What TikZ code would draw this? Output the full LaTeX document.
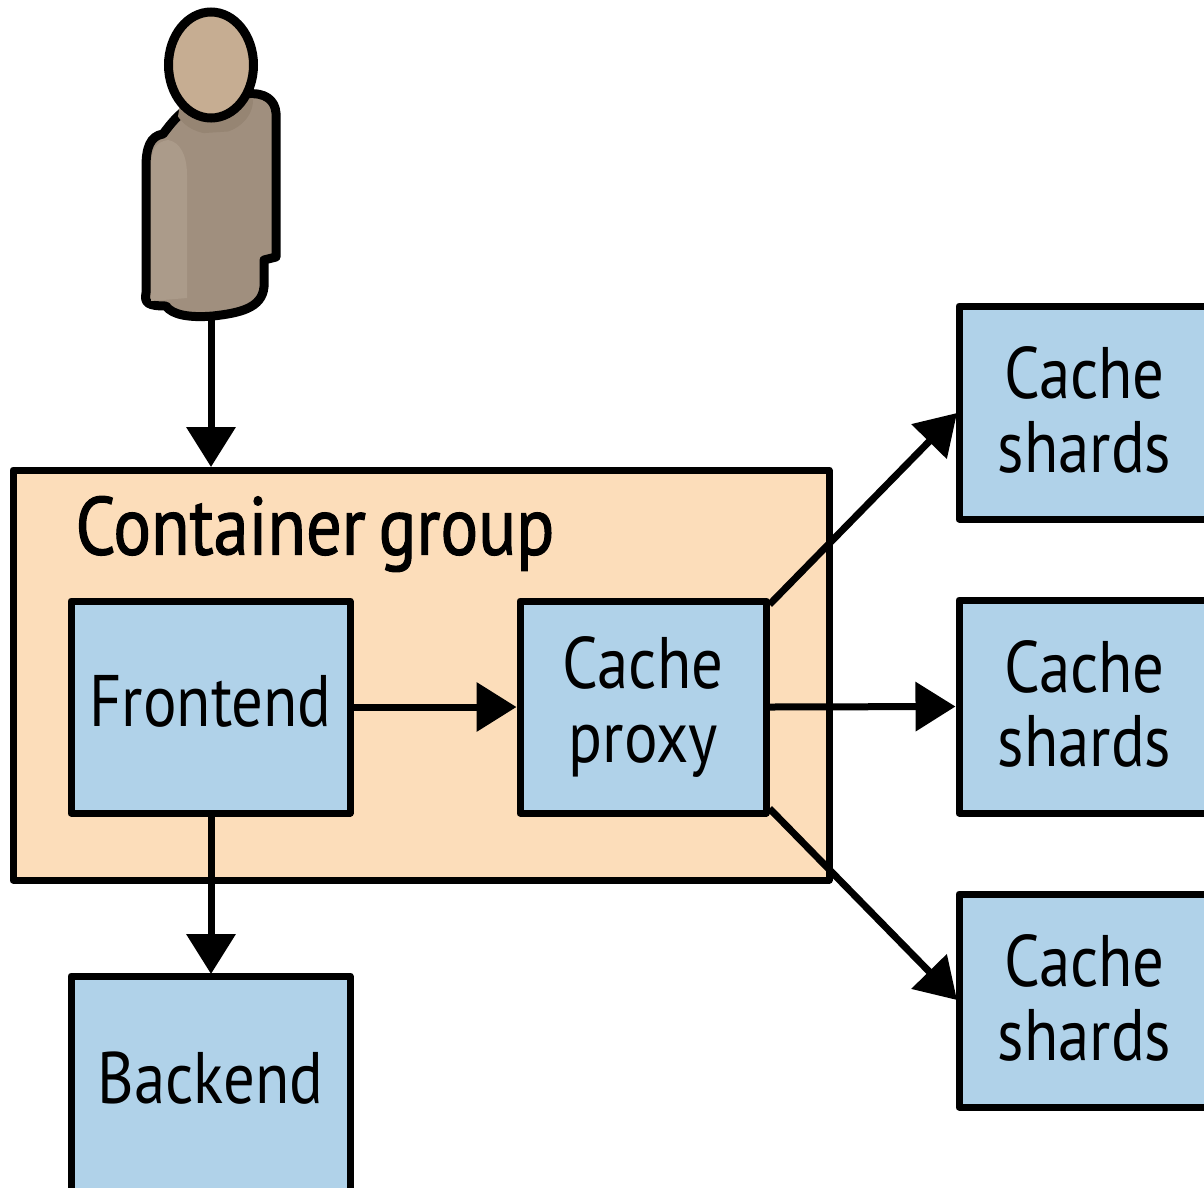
\documentclass[tikz,border=0pt]{standalone}
\usepackage{fontspec}
\setmainfont{PT Sans}
\usetikzlibrary{arrows.meta,shapes.geometric}
\definecolor{boxblue}{HTML}{B0D2E9}
\definecolor{grp}{HTML}{FCDDBA}
\definecolor{skin}{HTML}{C6AD92}
\definecolor{bodyd}{HTML}{A08F7E}
\definecolor{bodyl}{HTML}{AB9B8A}
\definecolor{bodys}{HTML}{968573}
\tikzset{x=1pt,y=-1pt,
 bx/.style={draw=black,line width=7pt,line join=round,fill=boxblue,anchor=center,inner sep=0pt,align=center,font=\fontsize{73}{74}\selectfont\addfontfeatures{FakeStretch=0.86}},
 conn/.style={draw=black,line width=7pt,-{Triangle[length=40pt,width=48pt]}}}
\newcommand{\bbox}[6]{\node[bx,minimum width=#3pt-#1pt,minimum height=#4pt-#2pt] (#5) at ({(#1+#3)/2},{(#2+#4)/2}) {#6};}
\begin{document}
\begin{tikzpicture}
\useasboundingbox (0,0) rectangle (1204,1187);
\fill[white] (0,0) rectangle (1204,1187);
% person
\draw[line width=9pt,fill=bodyd,line join=round] (188,108) .. controls (178,115) and (172,122) .. (163,134) .. controls (150,136) and (146,148) .. (146,167) -- (146,293) .. controls (144,303) and (148,306) .. (166,306) .. controls (172,315) and (190,318) .. (213,316) .. controls (240,313) and (262,308) .. (264,287) -- (264,260) -- (276,257) -- (276,113) .. controls (275,100) and (265,92) .. (247,94) -- cycle;
\begin{scope}
\clip (180,104) -- (255,98) -- (250,130) -- (175,135) -- cycle;
\fill[bodys] (213,100) ellipse (40pt and 34pt);
\end{scope}
\fill[bodyl] (151,168) .. controls (151,150) and (155,142) .. (168,140) .. controls (180,142) and (187,155) .. (187,175) -- (187,298) -- (151,301) -- cycle;
\node[draw=black,line width=9pt,fill=skin,ellipse,minimum width=85pt,minimum height=106pt,inner sep=0pt] (person) at (211,65) {};
\coordinate (personfoot) at (211,318);
% container
\node[draw=black,line width=7pt,line join=round,fill=grp,inner sep=0pt,minimum width=816pt,minimum height=410pt] (group) at (421,675) {};
\node[anchor=west,font=\fontsize{82}{80}\selectfont\addfontfeatures{FakeBold=1.4,FakeStretch=0.86}] (grouplabel) at (72,534) {Container\hspace{-6pt} group};
\bbox{71}{601}{350}{813}{fe}{\raisebox{12pt}{Frontend}}
\bbox{520}{601}{766}{813}{cp}{\raisebox{2pt}{Cache}\\\raisebox{2pt}{proxy}}
\bbox{71}{976}{350}{1200}{be}{\raisebox{20pt}{Backend}}
\bbox{959}{306}{1210}{519}{s1}{\raisebox{7pt}{Cache}\\\raisebox{7pt}{shards}}
\bbox{959}{600}{1210}{813}{s2}{\raisebox{7pt}{Cache}\\\raisebox{7pt}{shards}}
\bbox{959}{894}{1210}{1107}{s3}{\raisebox{7pt}{Cache}\\\raisebox{7pt}{shards}}
\coordinate (gt) at (211,467);
\coordinate (bt) at (211,974);
\coordinate (fb) at (211,813);
\coordinate (s1in) at (957,413);
\coordinate (s3in) at (957,1000);
\draw[conn] (personfoot) -- (gt);
\draw[conn] (fb) -- (bt);
\draw[conn] (fe.east) -- (cp.west);
\draw[conn] (cp.east) -- (s2.west);
\draw[conn] ([yshift=-7pt]cp.north east) -- (s1in);
\draw[conn] ([yshift=8pt]cp.south east) -- (s3in);
\end{tikzpicture}
\end{document}
